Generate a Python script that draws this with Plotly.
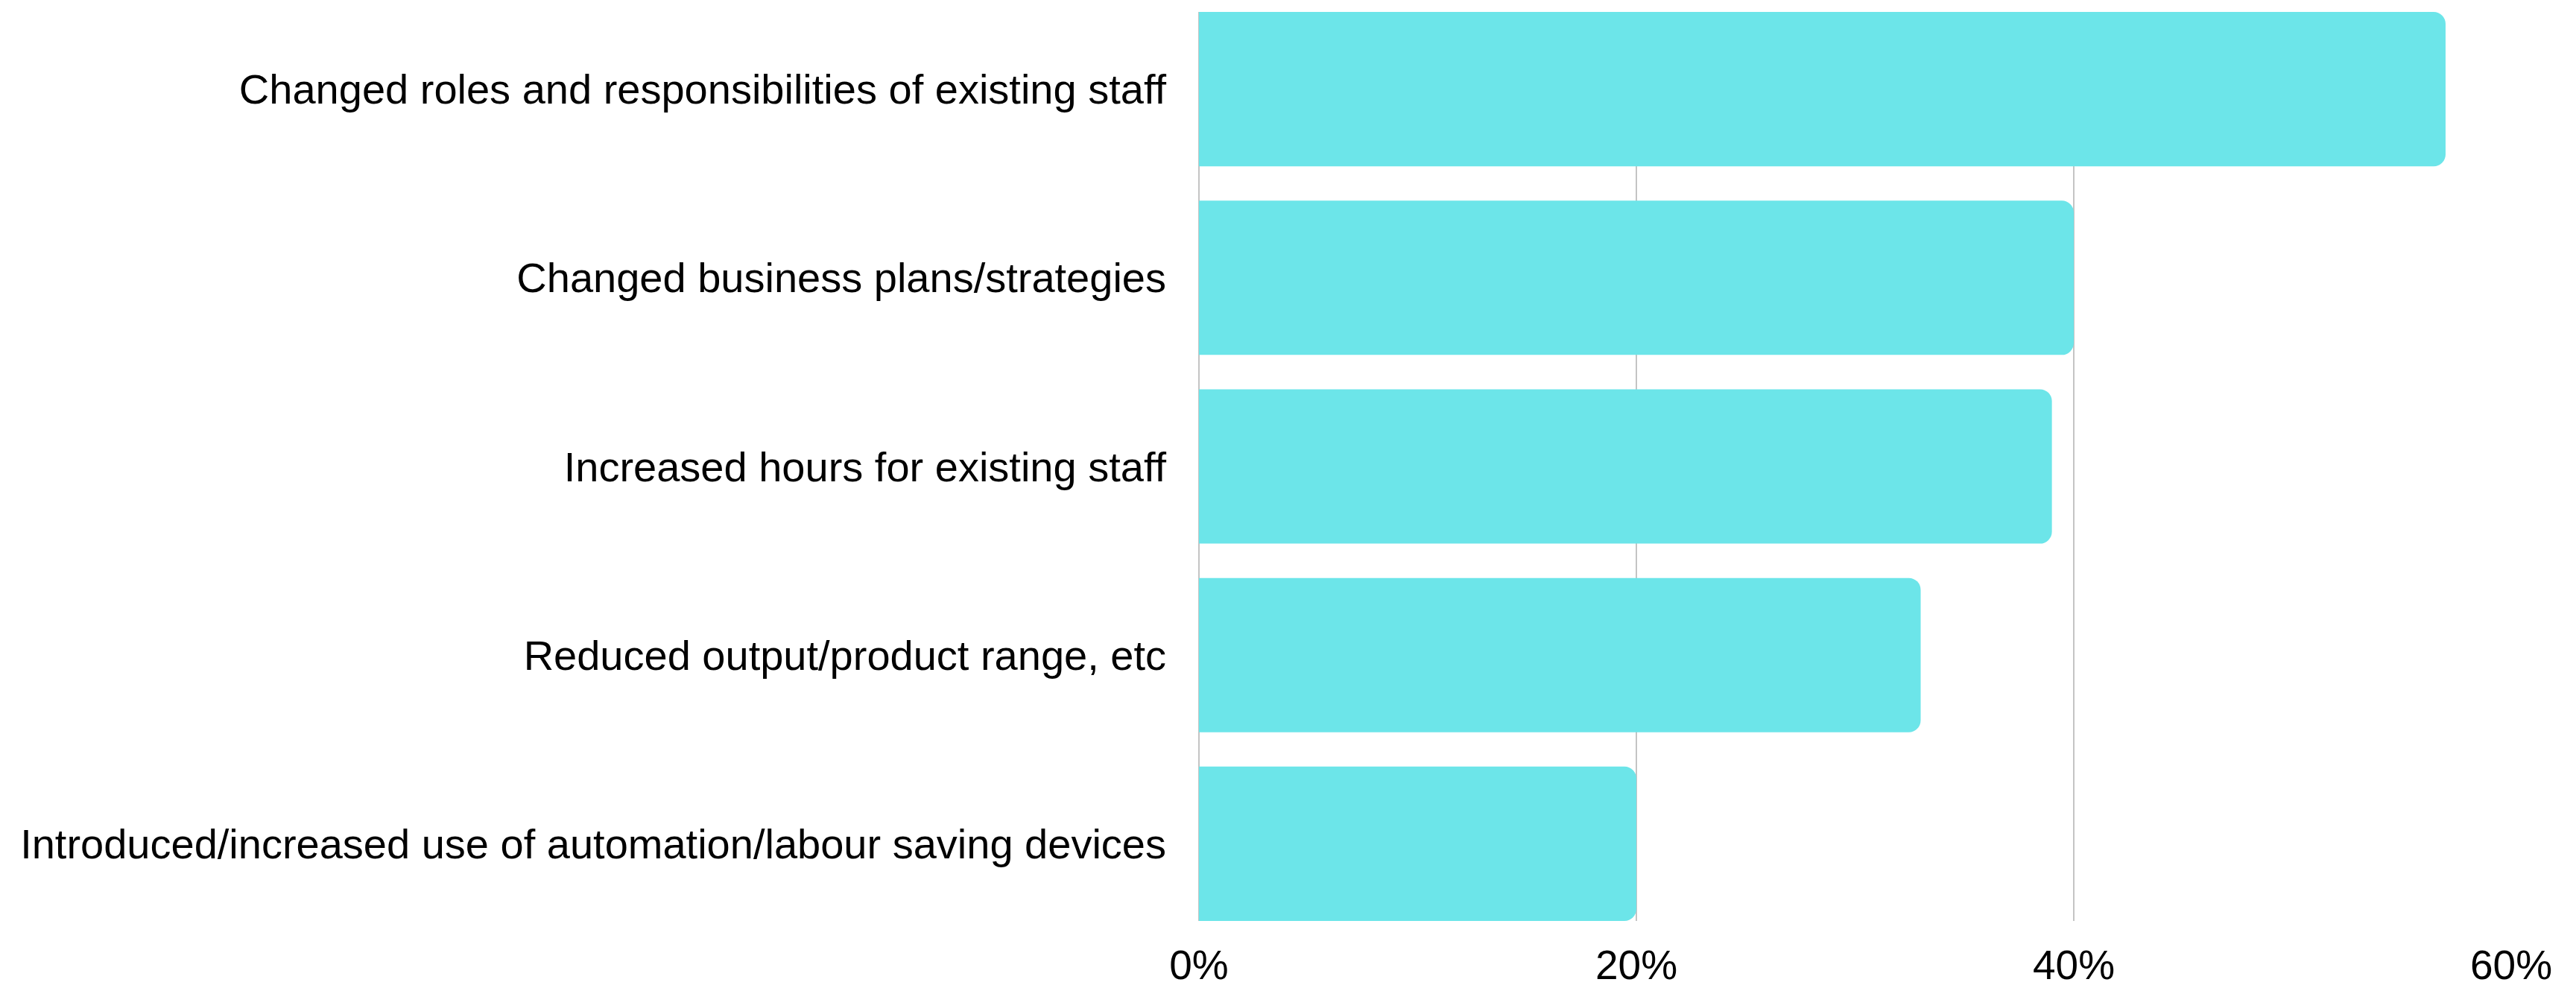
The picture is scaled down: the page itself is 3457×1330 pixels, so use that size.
import plotly.graph_objects as go

categories = [
    "Changed roles and responsibilities of existing staff",
    "Changed business plans/strategies",
    "Increased hours for existing staff",
    "Reduced output/product range, etc",
    "Introduced/increased use of automation/labour saving devices",
]
values = [57, 40, 39, 33, 20]
tick_vals = [0, 20, 40, 60]
tick_text = ["0%", "20%", "40%", "60%"]

bar_color = "#6CE5E9"
grid_color = "#C4C4C4"
bar_frac = 0.818

fig = go.Figure(
    go.Bar(
        x=values,
        y=categories,
        orientation="h",
        marker=dict(color=bar_color, line=dict(width=0)),
        width=bar_frac,
        hoverinfo="x+y",
    )
)

fig.update_layout(
    width=3457,
    height=1330,
    margin=dict(l=1609, r=87, t=16, b=94, pad=0),
    paper_bgcolor="white",
    plot_bgcolor="white",
    barcornerradius=16,
    showlegend=False,
    font=dict(family="Liberation Sans, Arial, sans-serif", size=56, color="#000000"),
    xaxis=dict(
        range=[0, 60],
        tickvals=tick_vals,
        ticktext=tick_text,
        showgrid=True,
        gridcolor=grid_color,
        gridwidth=1.5,
        zeroline=True,
        zerolinecolor=grid_color,
        zerolinewidth=2,
        showline=False,
        ticks="",
        ticklabelstandoff=22,
        automargin=False,
        tickfont=dict(size=55),
    ),
    yaxis=dict(
        type="category",
        categoryorder="array",
        categoryarray=categories,
        range=[len(categories) - 1 + bar_frac / 2, -bar_frac / 2],
        showgrid=False,
        zeroline=False,
        showline=False,
        ticks="",
        ticklabelstandoff=43,
        automargin=False,
        tickfont=dict(size=56),
    ),
)

fig.write_html("out.html")
